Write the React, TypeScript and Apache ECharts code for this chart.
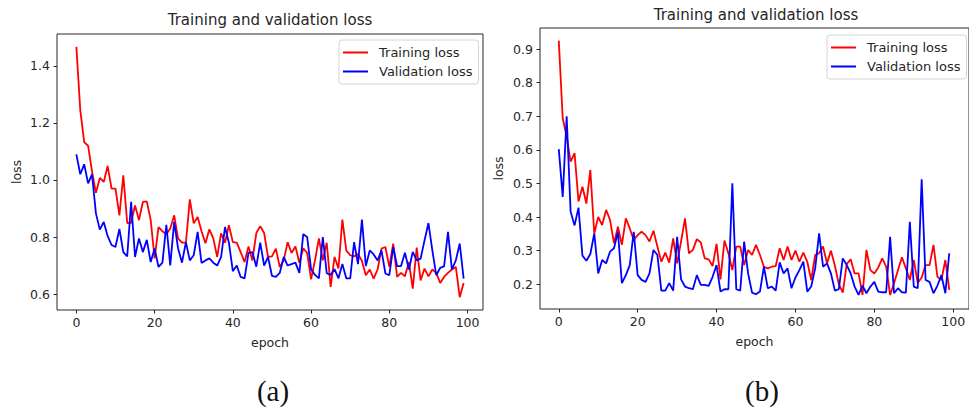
import React, { useEffect, useRef } from "react";
import * as echarts from "echarts";

const epochs: number[] = Array.from({ length: 100 }, (_, i) => i);

const trainA: number[] = [
  1.467, 1.245, 1.133, 1.12, 1.03, 0.955, 1.007, 0.993, 1.049, 0.97,
  0.97, 0.876, 1.016, 0.849, 0.85, 0.911, 0.859, 0.923, 0.925, 0.86,
  0.725, 0.835, 0.82, 0.81, 0.83, 0.876, 0.795, 0.78, 0.78, 0.932,
  0.848, 0.87, 0.82, 0.778, 0.827, 0.795, 0.73, 0.813, 0.78, 0.841,
  0.782, 0.78, 0.747, 0.712, 0.767, 0.718, 0.814, 0.838, 0.814, 0.73,
  0.732, 0.759, 0.695, 0.718, 0.782, 0.744, 0.767, 0.71, 0.76, 0.744,
  0.652, 0.718, 0.795, 0.718, 0.78, 0.625, 0.73, 0.69, 0.861, 0.753,
  0.736, 0.732, 0.74, 0.716, 0.666, 0.686, 0.654, 0.686, 0.759, 0.765,
  0.695, 0.777, 0.66, 0.674, 0.662, 0.712, 0.619, 0.763, 0.648, 0.689,
  0.662, 0.686, 0.674, 0.639, 0.66, 0.674, 0.686, 0.695, 0.589, 0.639,
];

const valA: number[] = [
  1.09, 1.02, 1.055, 0.988, 1.02, 0.883, 0.826, 0.853, 0.803, 0.772,
  0.765, 0.828, 0.747, 0.732, 0.923, 0.73, 0.795, 0.747, 0.79, 0.712,
  0.76, 0.695, 0.71, 0.843, 0.7, 0.853, 0.76, 0.71, 0.782, 0.718,
  0.736, 0.818, 0.709, 0.718, 0.725, 0.71, 0.7, 0.73, 0.835, 0.78,
  0.68, 0.7, 0.66, 0.655, 0.744, 0.747, 0.696, 0.78, 0.7, 0.73,
  0.664, 0.66, 0.674, 0.73, 0.7, 0.705, 0.71, 0.674, 0.81, 0.8,
  0.687, 0.667, 0.655, 0.8, 0.673, 0.667, 0.687, 0.655, 0.705, 0.655,
  0.655, 0.782, 0.705, 0.861, 0.698, 0.753, 0.739, 0.718, 0.753, 0.672,
  0.666, 0.765, 0.698, 0.698, 0.745, 0.686, 0.748, 0.718, 0.724, 0.788,
  0.849, 0.753, 0.666, 0.692, 0.697, 0.818, 0.686, 0.718, 0.777, 0.654,
];

const trainB: number[] = [
  0.925, 0.694, 0.639, 0.565, 0.59, 0.446, 0.49, 0.44, 0.54, 0.351,
  0.4, 0.376, 0.421, 0.391, 0.322, 0.371, 0.317, 0.396, 0.366, 0.332,
  0.346, 0.356, 0.346, 0.327, 0.359, 0.312, 0.267, 0.294, 0.264, 0.336,
  0.262, 0.327, 0.396, 0.292, 0.302, 0.334, 0.324, 0.277, 0.274, 0.254,
  0.32, 0.2145, 0.33, 0.292, 0.242, 0.312, 0.312, 0.257, 0.302, 0.287,
  0.317, 0.287, 0.252, 0.247, 0.252, 0.254, 0.307, 0.272, 0.312, 0.272,
  0.3, 0.267, 0.294, 0.267, 0.2125, 0.287, 0.292, 0.312, 0.262, 0.3,
  0.255, 0.2, 0.175, 0.26, 0.274, 0.232, 0.232, 0.168, 0.302, 0.242,
  0.232, 0.25, 0.277, 0.252, 0.168, 0.203, 0.242, 0.28, 0.247, 0.2125,
  0.272, 0.204, 0.22, 0.257, 0.257, 0.317, 0.222, 0.2125, 0.272, 0.183,
];

const valB: number[] = [
  0.602, 0.46, 0.7, 0.416, 0.375, 0.428, 0.285, 0.27, 0.29, 0.351,
  0.232, 0.272, 0.262, 0.297, 0.307, 0.356, 0.203, 0.227, 0.257, 0.356,
  0.227, 0.213, 0.207, 0.232, 0.302, 0.287, 0.181, 0.181, 0.203, 0.181,
  0.341, 0.2145, 0.193, 0.188, 0.185, 0.227, 0.198, 0.198, 0.195, 0.222,
  0.257, 0.178, 0.185, 0.185, 0.5, 0.185, 0.181, 0.327, 0.232, 0.175,
  0.17, 0.178, 0.252, 0.188, 0.193, 0.181, 0.265, 0.232, 0.247, 0.188,
  0.22, 0.242, 0.267, 0.178, 0.193, 0.247, 0.351, 0.252, 0.262, 0.232,
  0.181, 0.185, 0.277, 0.257, 0.232, 0.193, 0.168, 0.196, 0.173, 0.193,
  0.207, 0.178, 0.176, 0.176, 0.341, 0.173, 0.188, 0.176, 0.175, 0.386,
  0.193, 0.188, 0.512, 0.2125, 0.207, 0.173, 0.196, 0.227, 0.173, 0.292,
];

const xTicks: number[] = [0, 20, 40, 60, 80, 100];
const yTicksA: number[] = [0.6, 0.8, 1.0, 1.2, 1.4];
const yTicksB: number[] = [0.2, 0.3, 0.4, 0.5, 0.6, 0.7, 0.8, 0.9];

const titleText = "Training and validation loss";
const seriesNames = ["Training loss", "Validation loss"];
const panelLabels = ["(a)", "(b)"];

const FONT = "DejaVu Sans";
const INK = "#262626";
const TICK_FS = 12.5;

function xAxisOf(gridIndex: number, min: number, max: number) {
  return {
    type: "value",
    gridIndex,
    min,
    max,
    axisLine: { show: false, onZero: false },
    splitLine: { show: false },
    axisTick: { customValues: xTicks, length: 3.5, lineStyle: { color: INK, width: 1 } },
    axisLabel: { customValues: xTicks, margin: 6, fontSize: TICK_FS, color: INK, fontFamily: FONT },
    name: "epoch",
    nameLocation: "middle",
    nameGap: 26,
    nameTextStyle: { fontSize: TICK_FS, color: INK, fontFamily: FONT },
  };
}

function yAxisOf(gridIndex: number, min: number, max: number, ticks: number[], gap: number) {
  return {
    type: "value",
    gridIndex,
    min,
    max,
    axisLine: { show: false, onZero: false },
    splitLine: { show: false },
    axisTick: { customValues: ticks, length: 3.5, lineStyle: { color: INK, width: 1 } },
    axisLabel: {
      customValues: ticks,
      margin: 7,
      fontSize: TICK_FS,
      color: INK,
      fontFamily: FONT,
      formatter: (v: number) => v.toFixed(1),
    },
    name: "loss",
    nameLocation: "middle",
    nameRotate: 90,
    nameGap: gap,
    nameTextStyle: { fontSize: TICK_FS, color: INK, fontFamily: FONT },
  };
}

function lineSeries(name: string, data: number[], color: string, idx: number) {
  return {
    type: "line",
    name,
    xAxisIndex: idx,
    yAxisIndex: idx,
    data: epochs.map((e, i) => [e, data[i]]),
    showSymbol: false,
    symbol: "none",
    lineStyle: { color, width: 1.8 },
    itemStyle: { color },
    z: name === seriesNames[0] ? 2 : 3,
  };
}

function legendOf(left: number, top: number) {
  return {
    data: seriesNames,
    orient: "vertical",
    left,
    top,
    icon: "rect",
    itemWidth: 25,
    itemHeight: 2,
    itemGap: 4,
    padding: [5, 6, 5, 4],
    borderColor: "#d4d4d4",
    borderWidth: 1,
    borderRadius: 3,
    backgroundColor: "#fff",
    selectedMode: false,
    textStyle: { fontSize: 13, color: INK, fontFamily: FONT, padding: [0, 0, 0, 6], lineHeight: 15 },
  };
}

function textEl(x: number, y: number, text: string, font: string, fill: string) {
  return {
    type: "text",
    x,
    y,
    style: { text, font, fill, align: "center", verticalAlign: "middle", textAlign: "center", textVerticalAlign: "middle" },
  };
}

export default function App() {
  const ref = useRef<HTMLDivElement>(null);
  useEffect(() => {
    if (!ref.current) return;
    const chart = echarts.init(ref.current, undefined, { renderer: "svg" });
    chart.setOption({
      animation: false,
      backgroundColor: "#fff",
      textStyle: { fontFamily: FONT },
      grid: [
        { left: 57, top: 34, width: 426, height: 276, show: true, borderColor: INK, borderWidth: 1, backgroundColor: "transparent" },
        { left: 540, top: 28, width: 433, height: 281, show: true, borderColor: INK, borderWidth: 1, backgroundColor: "transparent" },
      ],
      xAxis: [xAxisOf(0, -4.95, 103.95), xAxisOf(1, -4.76, 104.0)],
      yAxis: [yAxisOf(0, 0.544, 1.512, yTicksA, 34), yAxisOf(1, 0.1262, 0.9625, yTicksB, 35)],
      legend: [legendOf(339, 40), legendOf(827, 35)],
      series: [
        lineSeries(seriesNames[0], trainA, "#ff0000", 0),
        lineSeries(seriesNames[1], valA, "#0000ff", 0),
        lineSeries(seriesNames[0], trainB, "#ff0000", 1),
        lineSeries(seriesNames[1], valB, "#0000ff", 1),
      ],
      graphic: [
        textEl(270, 20, titleText, `15px "${FONT}"`, INK),
        textEl(756, 15, titleText, `15px "${FONT}"`, INK),
        textEl(273, 391, panelLabels[0], `29px "Liberation Serif"`, "#111"),
        textEl(762, 391, panelLabels[1], `29px "Liberation Serif"`, "#111"),
      ],
    });
    return () => chart.dispose();
  }, []);
  return (
    <div
      ref={ref}
      style={{ position: "fixed", left: 0, top: 0, width: 969, height: 410, background: "#fff" }}
    />
  );
}
